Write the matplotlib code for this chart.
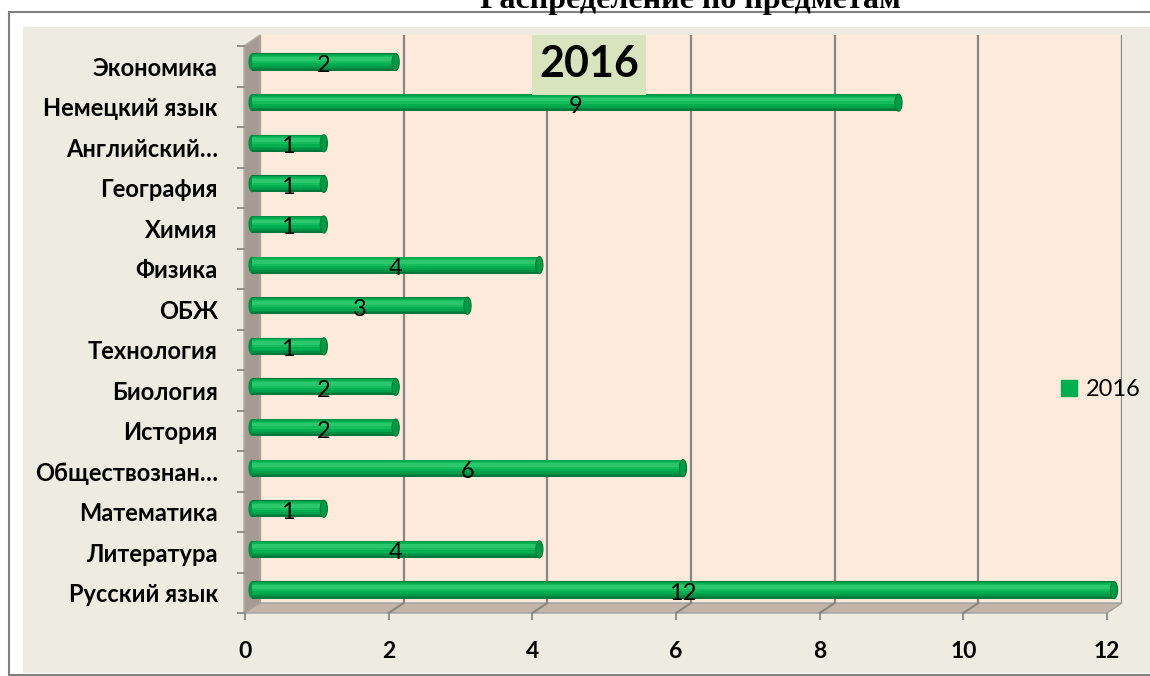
import numpy as np
import matplotlib.pyplot as plt
from matplotlib.patches import Rectangle, Polygon, Ellipse
from matplotlib.lines import Line2D

plt.rcParams['font.family'] = ['Lato', 'DejaVu Sans']

title = 'Распределение по предметам'
series_name = '2016'
subjects = ['Русский язык', 'Литература', 'Математика', 'Обществознан…', 'История',
            'Биология', 'Технология', 'ОБЖ', 'Физика', 'Химия', 'География',
            'Английский…', 'Немецкий язык', 'Экономика']
counts_2016 = [12, 4, 1, 6, 2, 2, 1, 3, 4, 1, 1, 1, 9, 2]
x_ticks = [0, 2, 4, 6, 8, 10, 12]

W, H = 1150, 676
fig = plt.figure(figsize=(11.5, 6.76), dpi=100)


def box(x0, y0, x1, y1):
    # pixel box (origin top-left) -> figure rect
    return [x0 / W, 1 - y1 / H, (x1 - x0) / W, (y1 - y0) / H]


def pt(x, y):
    return (x / W, 1 - y / H)


# frame and chart area
fig.add_artist(Rectangle(pt(9, 675), (1160 - 9) / W, (675 - 12) / H, facecolor='white',
                         edgecolor='#808080', lw=1.5, transform=fig.transFigure, zorder=-3))
fig.add_artist(Rectangle(pt(23, 673), (1160 - 23) / W, (673 - 27) / H, facecolor='#EEECE1',
                         edgecolor='none', transform=fig.transFigure, zorder=-2))
fig.text(690 / W, 1 - 8 / H, title, ha='center', va='baseline',
         family='Liberation Serif', weight='bold', size=23)

# back wall
ax_back = fig.add_axes(box(260, 35, 1122, 603), zorder=0)
ax_back.set_facecolor('#FDEADA')
ax_back.set_xlim(0, 12)
ax_back.set_xticks(x_ticks)
ax_back.grid(axis='x', color='#868686', lw=1.6)
ax_back.tick_params(left=False, bottom=False, labelleft=False, labelbottom=False)
for s in ax_back.spines.values():
    s.set_visible(False)

# side wall and floor
fig.add_artist(Polygon([pt(244, 46), pt(260, 35), pt(260, 603), pt(244, 613)], closed=True,
                       facecolor='#A69B93', edgecolor='#B5ABA3', lw=1,
                       transform=fig.transFigure, zorder=0.5))
fig.add_artist(Polygon([pt(244, 613), pt(260, 603), pt(1122, 603), pt(1107, 613)], closed=True,
                       facecolor='#C4B5A9', edgecolor='#A0A0A0', lw=1,
                       transform=fig.transFigure, zorder=0.5))

# front plane (axis ticks and labels)
ax = fig.add_axes(box(245, 46, 1107, 613), zorder=1)
ax.set_facecolor('none')
ax.set_xlim(0, 12)
ax.set_ylim(-0.5, len(subjects) - 0.5)
ax.set_xticks(x_ticks)
ax.set_xticklabels([str(t) for t in x_ticks], weight='bold', size=16.5)
ax.set_yticks(range(len(subjects)))
ax.set_yticklabels(subjects, weight='bold', size=17)
ax.set_yticks(np.arange(-0.5, len(subjects), 1), minor=True)
ax.tick_params(axis='x', length=5, width=1.3, color='#888888', pad=15)
ax.tick_params(axis='y', which='major', length=0, pad=19.5)
ax.tick_params(axis='y', which='minor', length=6, width=1.3, color='#888888')
for s in ax.spines.values():
    s.set_visible(False)

# floor grid lines joining back wall grid to front ticks
inv = fig.transFigure.inverted()
for t in x_ticks[1:-1]:
    p_back = inv.transform(ax_back.transData.transform((t, 0)))
    p_front = inv.transform(ax.transData.transform((t, -0.5)))
    fig.add_artist(Line2D([p_back[0], p_front[0]], [p_back[1], p_front[1]], color='#868686',
                          lw=1.5, transform=fig.transFigure, zorder=0.6))

# bars (cylinders, shaded by stacked layers)
ax_bar = fig.add_axes(box(252, 41.7, 1114, 610.3), zorder=2)
ax_bar.set_facecolor('none')
ax_bar.set_xlim(0, 12)
ax_bar.set_ylim(-0.5, len(subjects) - 0.5)
ax_bar.axis('off')
y = np.arange(len(subjects))
bh = 0.42
cap_w = 0.1
layers = [(1.0, 0.0, '#00783A'), (0.86, 0.02, '#008F43'), (0.74, 0.035, '#00A34B'),
          (0.6, 0.045, '#00B050'), (0.4, 0.06, '#14BC5C'), (0.22, 0.075, '#2CC66C')]
for i, v in enumerate(counts_2016):
    ax_bar.add_patch(Ellipse((0, i), cap_w, bh, facecolor='#00903F', edgecolor='none',
                             clip_on=False, zorder=1))
for k, (frac, dy, col) in enumerate(layers):
    ax_bar.barh(y + dy, counts_2016, height=bh * frac, color=col, lw=0, zorder=2 + k)
for i, v in enumerate(counts_2016):
    ax_bar.add_patch(Ellipse((v, i), cap_w, bh, facecolor='#009A45', edgecolor='#007A36',
                             lw=0.8, clip_on=False, zorder=10))
    ax_bar.annotate(str(v), (v / 2, i), xytext=(0, -2.5), textcoords='offset points',
                    ha='center', va='center', fontsize=17, color='black', zorder=11)

# "2016" caption box
fig.add_artist(Rectangle(pt(532, 95), (646 - 532) / W, (95 - 35) / H, facecolor='#D7E4BD',
                         edgecolor='none', transform=fig.transFigure, zorder=3))
fig.text(589 / W, 1 - 64 / H, series_name, ha='center', va='center', weight='bold',
         size=31, zorder=4)

# legend
handle = Line2D([], [], marker='s', linestyle='none', markersize=11, color='#00B050')
fig.legend([handle], [series_name], loc='center left', bbox_to_anchor=pt(1060, 390),
           frameon=False, fontsize=17, handletextpad=0.3, handlelength=0.8,
           borderpad=0, borderaxespad=0)

fig.savefig('out.png', dpi=100)
